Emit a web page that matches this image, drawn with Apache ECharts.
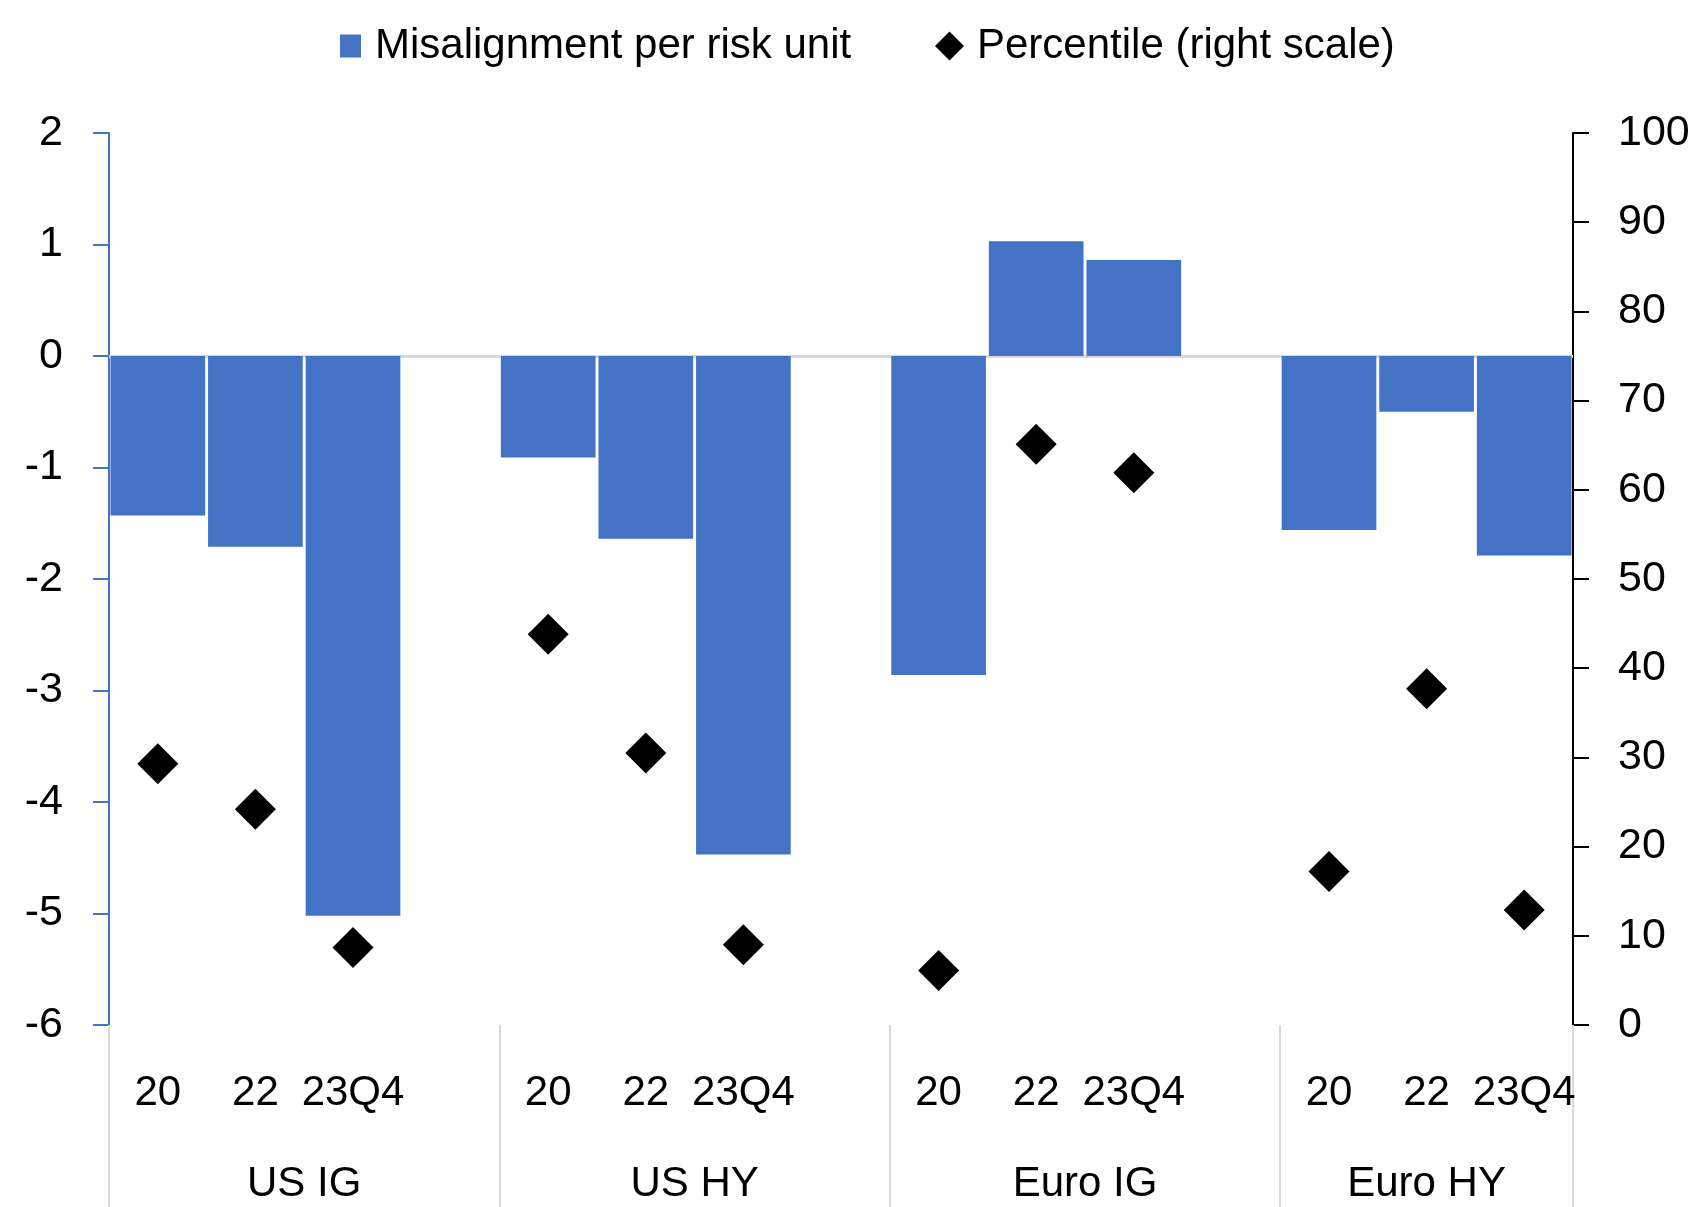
<!DOCTYPE html>
<html>
<head>
<meta charset="utf-8">
<script src="https://cdn.jsdelivr.net/npm/echarts@6/dist/echarts.min.js"></script>
<style>
  html, body { margin: 0; padding: 0; background: #fff; }
  #chart { width: 1691px; height: 1207px; }
</style>
</head>
<body>
<div id="chart"></div>
<script>
// Market groups and the periods shown within each group
const groups = ['US IG', 'US HY', 'Euro IG', 'Euro HY'];
const periods = ['20', '22', '23Q4'];

// Misalignment per risk unit (left scale), 3 periods per group, in group order
const misalignment = [-1.43, -1.71, -5.02, -0.91, -1.64, -4.47, -2.86, 1.03, 0.86, -1.56, -0.50, -1.79];

// Percentile (right scale), same ordering
const percentile = [29.3, 24.2, 8.7, 43.8, 30.5, 9.0, 6.1, 65.1, 61.9, 17.2, 37.7, 12.9];

// Left and right axis ranges
const leftTicks = { min: -6, max: 2, step: 1 };
const rightTicks = { min: 0, max: 100, step: 10 };

const BLUE = '#4472C4';
const FONT = "'Liberation Sans Narrow', 'Arial Narrow', 'Liberation Sans', Arial, sans-serif";
const NUMFONT = "'Liberation Sans', Arial, sans-serif";
const TEXT_SIZE = 42;

// Build the slot layout: each group gets its periods plus an empty spacer slot (none after the last group)
const slotLabels = [];
const barData = [];
const pointData = [];
const groupStart = [];   // slot index where each group starts
groups.forEach((g, gi) => {
  groupStart.push(slotLabels.length);
  periods.forEach((p, pi) => {
    slotLabels.push(p);
    barData.push(misalignment[gi * periods.length + pi]);
    pointData.push(percentile[gi * periods.length + pi]);
  });
  if (gi < groups.length - 1) {
    slotLabels.push('');
    barData.push(null);
    pointData.push(null);
  }
});
const slotCount = slotLabels.length;

// Group label positions (in slot units) = centre of each group's span
const groupCentres = {};
groups.forEach((g, gi) => {
  const start = groupStart[gi];
  const end = gi < groups.length - 1 ? groupStart[gi + 1] : slotCount;
  groupCentres[((start + end) / 2).toFixed(1)] = g;
});

const chart = echarts.init(document.getElementById('chart'), null, { renderer: 'canvas' });

const legendText = { fontFamily: FONT, fontSize: TEXT_SIZE, color: '#000', lineHeight: 46 };

chart.setOption({
  animation: false,
  backgroundColor: '#ffffff',
  grid: {
    left: 109, right: 118, top: 133, bottom: 182,
    containLabel: false,
    outerBoundsMode: 'none'
  },
  legend: [
    {
      data: [{ name: 'Misalignment per risk unit', icon: 'rect' }],
      left: 340, top: 23, padding: 0,
      itemWidth: 21, itemHeight: 23,
      textStyle: Object.assign({ padding: [0, 0, 0, 9] }, legendText)
    },
    {
      data: [{ name: 'Percentile (right scale)', icon: 'diamond', itemStyle: { opacity: 1 } }],
      left: 935, top: 23, padding: 0,
      itemWidth: 29, itemHeight: 29,
      textStyle: Object.assign({ padding: [0, 0, 0, 8] }, legendText)
    }
  ],
  xAxis: [
    {
      type: 'category',
      position: 'bottom',
      data: slotLabels,
      boundaryGap: true,
      axisLine: { show: false, onZero: false },
      axisTick: {
        show: true,
        length: 182,
        interval: (index) => groupStart.includes(index),
        lineStyle: { color: '#d9d9d9', width: 2 }
      },
      axisLabel: {
        interval: 0,
        margin: 47,
        fontFamily: FONT,
        fontSize: TEXT_SIZE,
        lineHeight: TEXT_SIZE,
        color: '#000'
      },
      splitLine: { show: false }
    },
    {
      // Group names placed at the centre of each group's slot span
      type: 'value',
      position: 'bottom',
      min: 0,
      max: slotCount,
      interval: 0.5,
      axisLine: { show: false, onZero: false },
      axisTick: { show: false },
      splitLine: { show: false },
      axisLabel: {
        margin: 138,
        fontFamily: FONT,
        fontSize: TEXT_SIZE,
        lineHeight: TEXT_SIZE,
        color: '#000',
        showMinLabel: true,
        showMaxLabel: true,
        formatter: (v) => groupCentres[Number(v).toFixed(1)] || ''
      }
    }
  ],
  yAxis: [
    {
      type: 'value',
      position: 'left',
      min: leftTicks.min,
      max: leftTicks.max,
      interval: leftTicks.step,
      axisLine: { show: true, onZero: false, lineStyle: { color: BLUE, width: 2 } },
      axisTick: { show: true, inside: false, length: 16, lineStyle: { color: BLUE, width: 2 } },
      splitLine: { show: false },
      axisLabel: { margin: 46, fontFamily: NUMFONT, fontSize: 43, color: '#000' }
    },
    {
      type: 'value',
      position: 'right',
      min: rightTicks.min,
      max: rightTicks.max,
      interval: rightTicks.step,
      axisLine: { show: true, onZero: false, lineStyle: { color: '#000', width: 2 } },
      axisTick: { show: true, inside: false, length: 16, lineStyle: { color: '#000', width: 2 } },
      splitLine: { show: false },
      axisLabel: { margin: 45, fontFamily: NUMFONT, fontSize: 43, color: '#000' }
    }
  ],
  series: [
    {
      name: 'Misalignment per risk unit',
      type: 'bar',
      xAxisIndex: 0,
      yAxisIndex: 0,
      data: barData,
      barCategoryGap: '3%',
      itemStyle: { color: BLUE },
      z: 2,
      markLine: {
        silent: true,
        symbol: 'none',
        label: { show: false },
        lineStyle: { color: '#d9d9d9', width: 3, type: 'solid' },
        data: [{ yAxis: 0 }],
        z: 1
      }
    },
    {
      name: 'Percentile (right scale)',
      type: 'scatter',
      xAxisIndex: 0,
      yAxisIndex: 1,
      data: pointData,
      symbol: 'diamond',
      symbolSize: 41,
      itemStyle: { color: '#000', opacity: 1 },
      z: 3
    }
  ]
});
</script>
</body>
</html>
